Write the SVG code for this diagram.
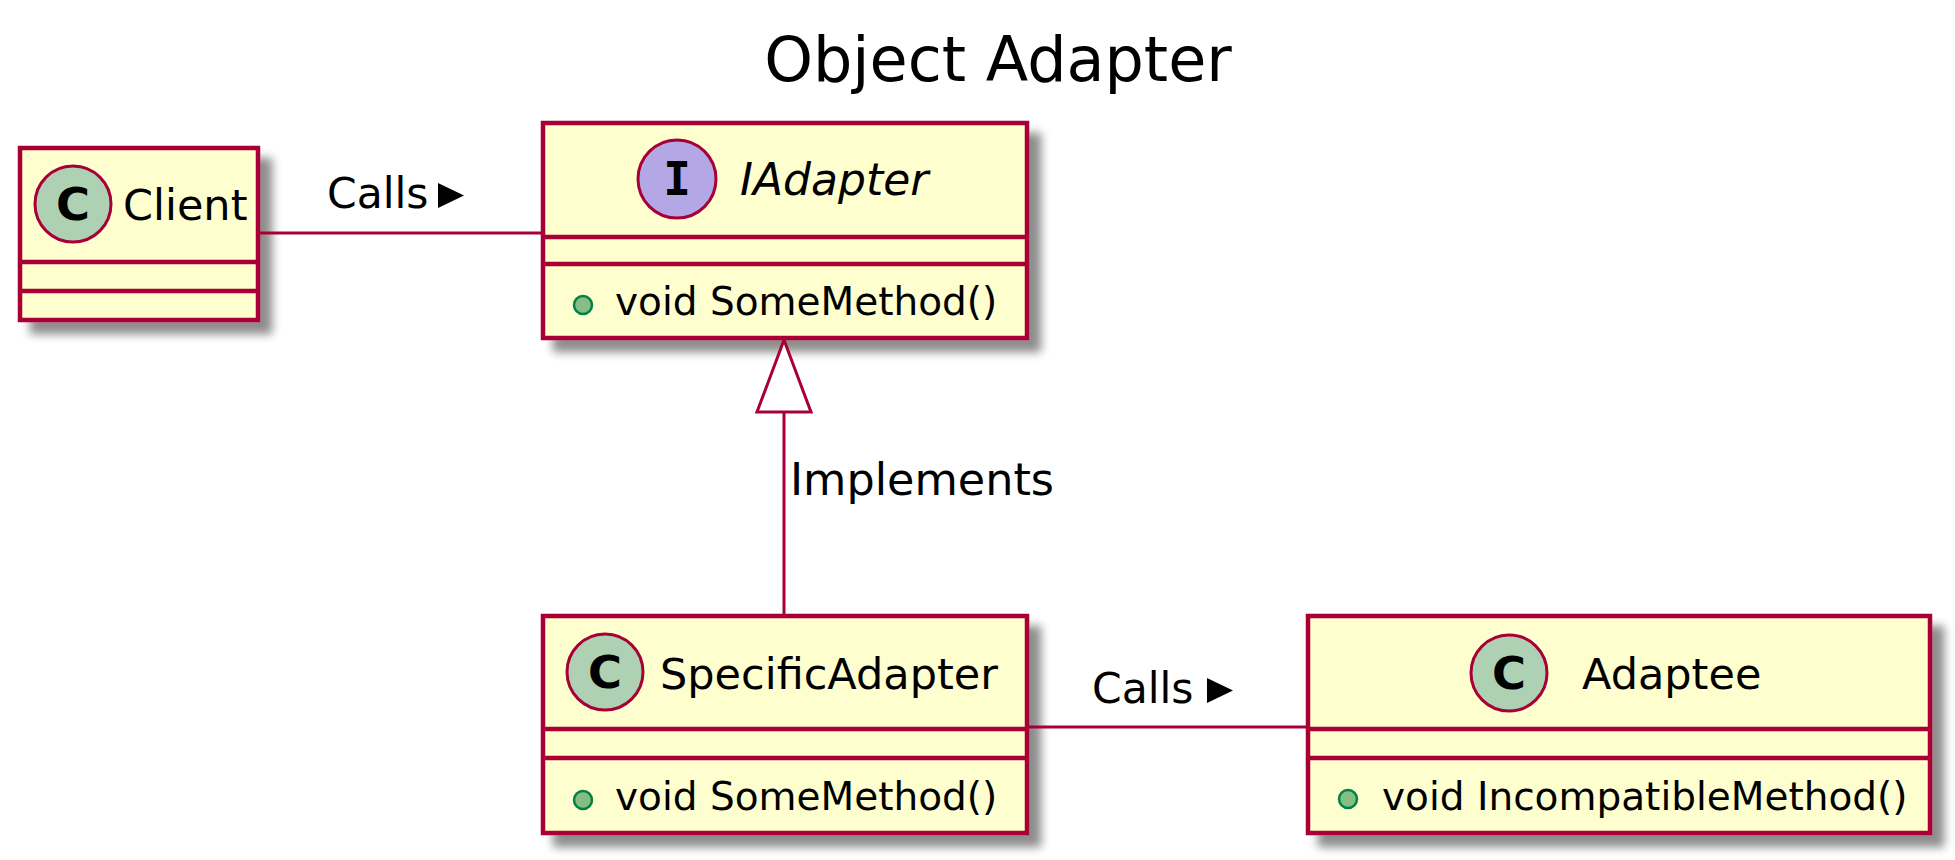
<svg xmlns="http://www.w3.org/2000/svg" width="1955" height="860" viewBox="0 0 1955 860">
<style>
.box{fill:#FEFECE;stroke:#A80036;stroke-width:4.5}
.sep{stroke:#A80036;stroke-width:4.5}
.circC{fill:#ADD1B2;stroke:#A80036;stroke-width:3}
.circI{fill:#B4A7E5;stroke:#A80036;stroke-width:3}
.glyph{font-family:"DejaVu Sans",sans-serif;font-weight:bold;font-size:44px;fill:#000}
.name{font-family:"DejaVu Sans",sans-serif;font-size:43px;fill:#000}
.iname{font-family:"DejaVu Sans",sans-serif;font-style:italic;font-size:44px;fill:#000}
.meth{font-family:"DejaVu Sans",sans-serif;font-size:39px;fill:#000}
.dot{fill:#84BE84;stroke:#038048;stroke-width:2.5}
.edge{stroke:#A80036;stroke-width:3;fill:none}
.lbl{font-family:"DejaVu Sans",sans-serif;font-size:42.5px;fill:#000}
.title{font-family:"DejaVu Sans",sans-serif;font-size:62px;fill:#000}
</style>
<defs>
<filter id="shadow" x="-10%" y="-10%" width="130%" height="140%">
<feGaussianBlur in="SourceAlpha" stdDeviation="5"/>
<feOffset dx="12" dy="12" result="b"/>
<feComponentTransfer><feFuncA type="linear" slope="0.45"/></feComponentTransfer>
<feMerge><feMergeNode/><feMergeNode in="SourceGraphic"/></feMerge>
</filter>
</defs>
<rect width="1955" height="860" fill="#FFFFFF"/>
<text class="title" x="998" y="81" text-anchor="middle">Object Adapter</text>

<g id="Client">
<rect class="box" x="20" y="148" width="238" height="172" filter="url(#shadow)"/>
<line class="sep" x1="20" y1="262" x2="258" y2="262"/>
<line class="sep" x1="20" y1="291" x2="258" y2="291"/>
<circle class="circC" cx="73" cy="204" r="38"/>
<text class="glyph" x="73" y="220" text-anchor="middle" textLength="34" lengthAdjust="spacingAndGlyphs">C</text>
<text class="name" x="123" y="220">Client</text>
</g>

<g id="IAdapter">
<rect class="box" x="543" y="123" width="484" height="215" filter="url(#shadow)"/>
<line class="sep" x1="543" y1="237" x2="1027" y2="237"/>
<line class="sep" x1="543" y1="264" x2="1027" y2="264"/>
<circle class="circI" cx="677" cy="179" r="39"/>
<text x="677" y="195" text-anchor="middle" style="font-family:'DejaVu Sans Mono',monospace;font-weight:bold;font-size:46px;fill:#000">I</text>
<text class="iname" x="740" y="195">IAdapter</text>
<circle class="dot" cx="583" cy="305" r="9"/>
<text class="meth" x="615" y="315">void SomeMethod()</text>
</g>

<g id="SpecificAdapter">
<rect class="box" x="543" y="616" width="484" height="217" filter="url(#shadow)"/>
<line class="sep" x1="543" y1="729" x2="1027" y2="729"/>
<line class="sep" x1="543" y1="758" x2="1027" y2="758"/>
<circle class="circC" cx="605" cy="672" r="38"/>
<text class="glyph" x="605" y="688" text-anchor="middle" textLength="34" lengthAdjust="spacingAndGlyphs">C</text>
<text class="name" x="660" y="689">SpecificAdapter</text>
<circle class="dot" cx="583" cy="800" r="9"/>
<text class="meth" x="615" y="810">void SomeMethod()</text>
</g>

<g id="Adaptee">
<rect class="box" x="1308" y="616" width="622" height="217" filter="url(#shadow)"/>
<line class="sep" x1="1308" y1="729" x2="1930" y2="729"/>
<line class="sep" x1="1308" y1="758" x2="1930" y2="758"/>
<circle class="circC" cx="1509" cy="673" r="38"/>
<text class="glyph" x="1509" y="689" text-anchor="middle" textLength="34" lengthAdjust="spacingAndGlyphs">C</text>
<text class="name" x="1582" y="689">Adaptee</text>
<circle class="dot" cx="1348" cy="799" r="9"/>
<text class="meth" x="1382" y="810">void IncompatibleMethod()</text>
</g>

<g id="connectors">
<line class="edge" x1="258" y1="233" x2="543" y2="233"/>
<text class="lbl" x="327" y="208">Calls</text>
<polygon points="438,183 464,195.5 438,208" fill="#000"/>

<line class="edge" x1="784" y1="616" x2="784" y2="412"/>
<polygon points="784,340 811,412 757,412" fill="#FFFFFF" stroke="#A80036" stroke-width="3"/>
<text class="lbl" x="790" y="495" style="font-size:44.5px">Implements</text>

<line class="edge" x1="1027" y1="727" x2="1308" y2="727"/>
<text class="lbl" x="1092" y="703">Calls</text>
<polygon points="1207,678 1233,690.5 1207,703" fill="#000"/>
</g>
</svg>
